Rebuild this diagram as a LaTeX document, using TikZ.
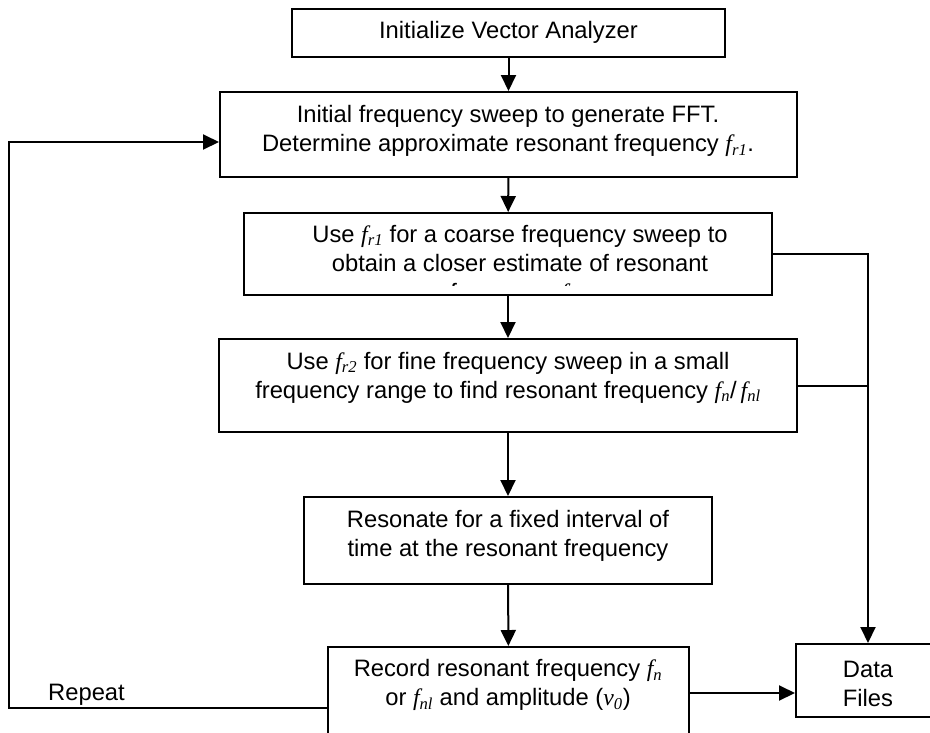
\documentclass[tikz,border=0pt]{standalone}
\usepackage{fontspec}
\setmainfont{Liberation Sans}
\newfontfamily\tmsfont{Liberation Serif}
\usetikzlibrary{arrows.meta}
\newcommand{\fq}[1]{{\tmsfont\itshape f\textsubscript{#1}}}
\newcommand{\vq}[1]{{\tmsfont\itshape v\textsubscript{#1}}}
\begin{document}
\begin{tikzpicture}[x=1pt,y=-1pt,
  box/.style={draw, line width=2pt, rectangle, inner sep=0pt},
  txt/.style={align=center, inner sep=0pt, font=\fontsize{23.75}{29}\selectfont},
  arr/.style={line width=2pt, -{Triangle[length=16pt,width=15pt]}},
  ln/.style={line width=2pt}]
\useasboundingbox (0,0) rectangle (930,732);
\clip (0,0) rectangle (930,732);
% boxes
\node[box, minimum width=433pt, minimum height=48pt] (b1) at (508.5,33) {};
\node[box, minimum width=577pt, minimum height=85pt] (b2) at (508.5,134.5) {};
\node[box, minimum width=528pt, minimum height=82pt] (b3) at (508,254) {};
\node[box, minimum width=578pt, minimum height=93pt] (b4) at (508,385.5) {};
\node[box, minimum width=408pt, minimum height=87pt] (b5) at (508,540.5) {};
\node[box, minimum width=361pt, minimum height=92pt] (b6) at (508.5,693) {};
\node[box, minimum width=144pt, minimum height=73pt] (b7) at (868,680.5) {};
% texts
\node[txt] (t1) at (508.5,32) {Initialize Vector Analyzer};
\node[txt] (t2) at (508,131) {Initial frequency sweep to generate FFT.\\Determine approximate resonant frequency \fq{r1}.};
\begin{scope}
\clip (244,213) rectangle (772,285);
\node[txt] (t3) at (520,265) {Use \fq{r1} for a coarse frequency sweep to\\obtain a closer estimate of resonant\\frequency \fq{r2}.};
\end{scope}
\node[txt] (t4) at (508,377.5) {Use \fq{r2} for fine frequency sweep in a small\\frequency range to find resonant frequency \fq{n}/\,\fq{nl}};
\node[txt] (t5) at (508,536) {Resonate for a fixed interval of\\time at the resonant frequency};
\node[txt] (t6) at (508,685) {Record resonant frequency \fq{n}\\or \fq{nl} and amplitude (\vq{0})};
\node[txt] (t7) at (868,684) {Data\\Files};
\node[txt, anchor=base west] (rep) at (48,700) {Repeat};
% connectors
\draw[arr] (b1) -- (b2);
\draw[arr] (b2) -- (b3);
\draw[arr] (b3) -- (b4);
\draw[arr] (b4) -- (b5);
\draw[arr] (b5) -- (b6);
\draw[arr] (b3.east) -| (b7.north);
\draw[ln] (b4.east) -- (b4.east -| b7.north);
\draw[arr] (b6.east) -- (b6.east -| b7.west);
\coordinate (rc) at (9,708);
\draw[arr] ([yshift=-15pt]b6.west) -- (rc) |- ([yshift=-7.5pt]b2.west);
\end{tikzpicture}
\end{document}
